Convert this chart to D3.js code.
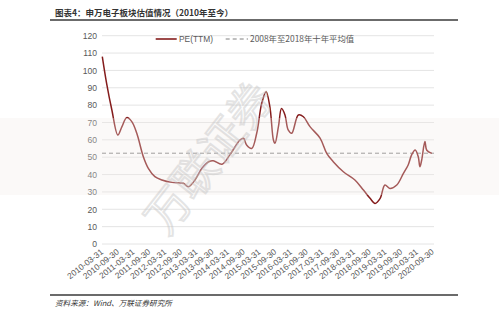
<!DOCTYPE html>
<html><head><meta charset="utf-8">
<script src="https://cdn.jsdelivr.net/npm/d3@7"></script>
<style>
html,body{margin:0;padding:0;background:#fff;}
svg{display:block;font-family:"Liberation Sans",Arial,sans-serif;}
</style></head>
<body>
<svg id="c" width="499" height="316"></svg>
<script>
const title = "图表4：申万电子板块估值情况（2010年至今）";
const source = "资料来源：Wind、万联证券研究所";
const seriesNames = ["PE(TTM)", "2008年至2018年十年平均值"];
const yTicks = [0,10,20,30,40,50,60,70,80,90,100,110,120];
const xTickLabels = ["2010-03-31","2010-09-30","2011-03-31","2011-09-30","2012-03-31","2012-09-30",
  "2013-03-31","2013-09-30","2014-03-31","2014-09-30","2015-03-31","2015-09-30","2016-03-31",
  "2016-09-30","2017-03-31","2017-09-30","2018-03-31","2018-09-30","2019-03-31","2019-09-30",
  "2020-03-31","2020-09-30"];
const dates = ["2010-03-31","2010-05-20","2010-07-20","2010-09-27","2010-11-14","2011-01-08","2011-03-08",
  "2011-05-05","2011-07-20","2011-09-16","2011-12-01","2012-02-20","2012-06-17","2012-10-27","2012-12-24",
  "2013-03-10","2013-05-30","2013-08-15","2013-10-08","2014-01-18","2014-04-20","2014-08-14","2014-09-24",
  "2014-10-30","2014-12-28","2015-02-24","2015-04-23","2015-06-13","2015-07-27","2015-09-06","2015-09-24",
  "2015-11-03","2015-12-09","2016-01-18","2016-02-24","2016-04-05","2016-06-21","2016-08-19","2016-11-03",
  "2017-02-28","2017-05-16","2017-07-31","2017-11-25","2018-04-08","2018-07-16","2018-10-01","2018-11-28",
  "2019-01-26","2019-03-22","2019-05-19","2019-08-07","2019-10-23","2019-12-17","2020-01-26","2020-03-07",
  "2020-04-12","2020-05-01","2020-05-22","2020-06-28","2020-07-20","2020-09-16"];
const pe = [108,92.6,77.2,62.8,67.6,72.8,70.5,
  63.8,50.3,43.6,38.8,36.9,35.5,35,33,
  36.9,43.6,47.4,48,46,51.5,59.9,60.9,
  57,55,63.8,81,87.7,79,59.9,58,
  67.6,78,74.3,65.7,63.8,74.3,73.3,67.6,
  61,52.2,47.4,41.6,36.9,31.1,26.3,23.4,
  26.3,34,32,34,40.7,45.5,51.3,54.1,
  50.3,44.5,48.4,59,54,52.2];
const avgPE = 52.3;

const svg = d3.select("#c");
const parse = d3.timeParse("%Y-%m-%d");
const data = dates.map((d,i)=>({d:parse(d), v:pe[i]}));

const x = d3.scaleTime().domain([parse("2010-03-31"), parse("2020-09-30")]).range([102.3, 433]);
const y = d3.scaleLinear().domain([0,120]).range([244, 35.7]);
const gridX0 = 102, gridX1 = 434;

// header
svg.append("line").attr("x1",50).attr("x2",458).attr("y1",20).attr("y2",20)
  .attr("stroke","#3a3a3a").attr("stroke-width",1.6);
svg.append("text").attr("x",55).attr("y",16).attr("font-family","'Noto Sans CJK SC',sans-serif")
  .attr("font-size",8.5).attr("font-weight","bold").attr("fill","#333").text(title);

// grid
svg.append("g").selectAll("line").data(yTicks).join("line")
  .attr("x1",gridX0).attr("x2",gridX1).attr("y1",d=>y(d)).attr("y2",d=>y(d))
  .attr("stroke","#e4e4e4").attr("stroke-width",1);

// y axis
const yAxis = d3.axisLeft(y).tickValues(yTicks).tickSize(0).tickPadding(0);
const gy = svg.append("g").attr("transform",`translate(97,0)`).call(yAxis);
gy.select(".domain").remove();
gy.selectAll("text").attr("font-size",8.6).attr("fill","#595959").attr("font-family","'Liberation Sans',Arial,sans-serif");

// x axis
const xAxis = d3.axisBottom(x).tickValues(xTickLabels.map(parse)).tickSize(0).tickFormat(d3.timeFormat("%Y-%m-%d"));
const gx = svg.append("g").attr("transform",`translate(0,244)`).call(xAxis);
gx.select(".domain").remove();
gx.selectAll("text").attr("font-size",8.4).attr("fill","#595959")
  .attr("font-family","'Liberation Sans',Arial,sans-serif")
  .attr("text-anchor","end").attr("dy",0).attr("y",0)
  .attr("transform","translate(1,9) rotate(-38)");

// average line
svg.append("line").attr("x1",gridX0).attr("x2",gridX1).attr("y1",y(avgPE)).attr("y2",y(avgPE))
  .attr("stroke","#7f7f7f").attr("stroke-width",1).attr("stroke-dasharray","4,3");

// PE line
const line = d3.line().x(d=>x(d.d)).y(d=>y(d.v)).curve(d3.curveCatmullRom.alpha(0.5));
svg.append("path").datum(data).attr("d",line).attr("fill","none")
  .attr("stroke","#841c1c").attr("stroke-width",1.5);

// legend
svg.append("line").attr("x1",155.7).attr("x2",176.7).attr("y1",39).attr("y2",39)
  .attr("stroke","#841c1c").attr("stroke-width",1.6);
svg.append("text").attr("x",179).attr("y",42).attr("font-size",8.4).attr("fill","#595959").text(seriesNames[0]);
svg.append("line").attr("x1",225.7).attr("x2",248).attr("y1",39).attr("y2",39)
  .attr("stroke","#7f7f7f").attr("stroke-width",1).attr("stroke-dasharray","4,3");
svg.append("text").attr("x",250).attr("y",42).attr("font-size",8.4).attr("fill","#595959")
  .attr("font-family","'Noto Sans CJK SC',sans-serif").text(seriesNames[1]);

// watermark band
svg.append("rect").attr("x",0).attr("y",118).attr("width",499).attr("height",77)
  .attr("fill","#f3eae7").attr("opacity",0.3);
// diagonal watermark
svg.append("text").attr("transform","translate(212,160) rotate(-52)")
  .attr("text-anchor","middle").attr("dominant-baseline","middle")
  .attr("font-family","'Noto Sans CJK SC',sans-serif").attr("font-size",44)
  .attr("fill","none").attr("stroke","#c4c4c4").attr("stroke-width",2).attr("opacity",0.45)
  .text("万联证券");

// footer
svg.append("line").attr("x1",50).attr("x2",458).attr("y1",295).attr("y2",295)
  .attr("stroke","#3a3a3a").attr("stroke-width",1.6);
svg.append("text").attr("x",55).attr("y",306).attr("font-size",7.6).attr("fill","#333")
  .attr("font-style","italic").attr("font-family","'Noto Sans CJK SC',sans-serif").text(source);
</script>
</body></html>
